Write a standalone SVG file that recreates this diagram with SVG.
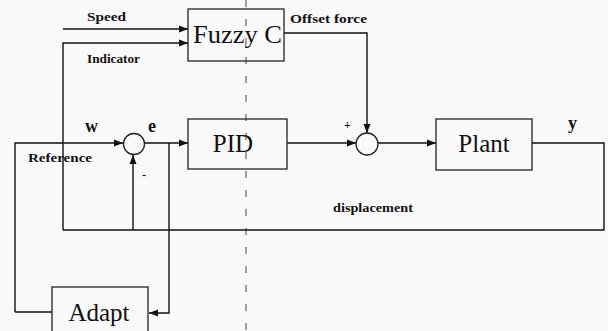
<svg xmlns="http://www.w3.org/2000/svg" width="608" height="331" viewBox="0 0 608 331">
<style>
.ln{fill:none;stroke:#111;stroke-width:1.4}
.box{fill:none;stroke:#222;stroke-width:1.3}
.big{font-family:"Liberation Serif",serif;font-size:25px;fill:#111}
.sm{font-family:"Liberation Serif",serif;font-size:12px;font-weight:bold;fill:#111}
.sym{font-family:"Liberation Serif",serif;font-size:18px;font-weight:bold;fill:#111}
</style>
<defs>
<marker id="ah" markerWidth="10" markerHeight="8" refX="9" refY="4" orient="auto" markerUnits="userSpaceOnUse">
<path d="M0,0.5 L9,4 L0,7.5 z" fill="#111"/>
</marker>
</defs>
<rect width="608" height="331" fill="#f9f9f9"/>
<line x1="246" y1="0" x2="246" y2="331" stroke="#444" stroke-width="1" stroke-dasharray="7 12"/>
<g id="connectors">
<path class="ln" d="M63,29 H188" marker-end="url(#ah)"/>
<path class="ln" d="M63,230 V43 H188" marker-end="url(#ah)"/>
<path class="ln" d="M284,33 H367 V133" marker-end="url(#ah)"/>
<path class="ln" d="M15,312 V143 H123" marker-end="url(#ah)"/>
<path class="ln" d="M15,312 H52"/>
<path class="ln" d="M144,143 H188" marker-end="url(#ah)"/>
<path class="ln" d="M169,143 V313 H149" marker-end="url(#ah)"/>
<path class="ln" d="M287,143 H356" marker-end="url(#ah)"/>
<path class="ln" d="M378,143 H436" marker-end="url(#ah)"/>
<path class="ln" d="M532,143 H604 V230 H63"/>
<path class="ln" d="M133,230 V155" marker-end="url(#ah)"/>
</g>
<g id="fuzzy">
<rect class="box" x="188" y="9" width="96" height="52"/>
<text class="big" x="193" y="43" textLength="89" lengthAdjust="spacingAndGlyphs">Fuzzy C</text>
</g>
<g id="pid">
<rect class="box" x="188" y="119" width="99" height="50"/>
<text class="big" x="233" y="152" text-anchor="middle">PID</text>
</g>
<g id="plant">
<rect class="box" x="436" y="119" width="96" height="51"/>
<text class="big" x="484" y="152" text-anchor="middle">Plant</text>
</g>
<g id="adapt">
<rect class="box" x="52" y="287" width="96" height="60"/>
<text class="big" x="99" y="321" text-anchor="middle">Adapt</text>
</g>
<g id="sum1">
<circle class="box" cx="134" cy="144" r="10.5"/>
</g>
<g id="sum2">
<circle class="box" cx="367" cy="144" r="11"/>
</g>
<g id="labels">
<text class="sm" x="87" y="21" textLength="39" lengthAdjust="spacingAndGlyphs">Speed</text>
<text class="sm" x="87" y="63" textLength="53" lengthAdjust="spacingAndGlyphs">Indicator</text>
<text class="sm" x="290" y="23" textLength="77" lengthAdjust="spacingAndGlyphs">Offset force</text>
<text class="sm" x="28" y="162" textLength="64" lengthAdjust="spacingAndGlyphs">Reference</text>
<text class="sm" x="333" y="212" textLength="80" lengthAdjust="spacingAndGlyphs">displacement</text>
<text class="sym" x="85" y="132">w</text>
<text class="sym" x="148" y="132">e</text>
<text class="sym" x="568" y="129">y</text>
<text class="sm" x="344" y="129">+</text>
<text class="sm" x="142" y="179">-</text>
</g>
</svg>
